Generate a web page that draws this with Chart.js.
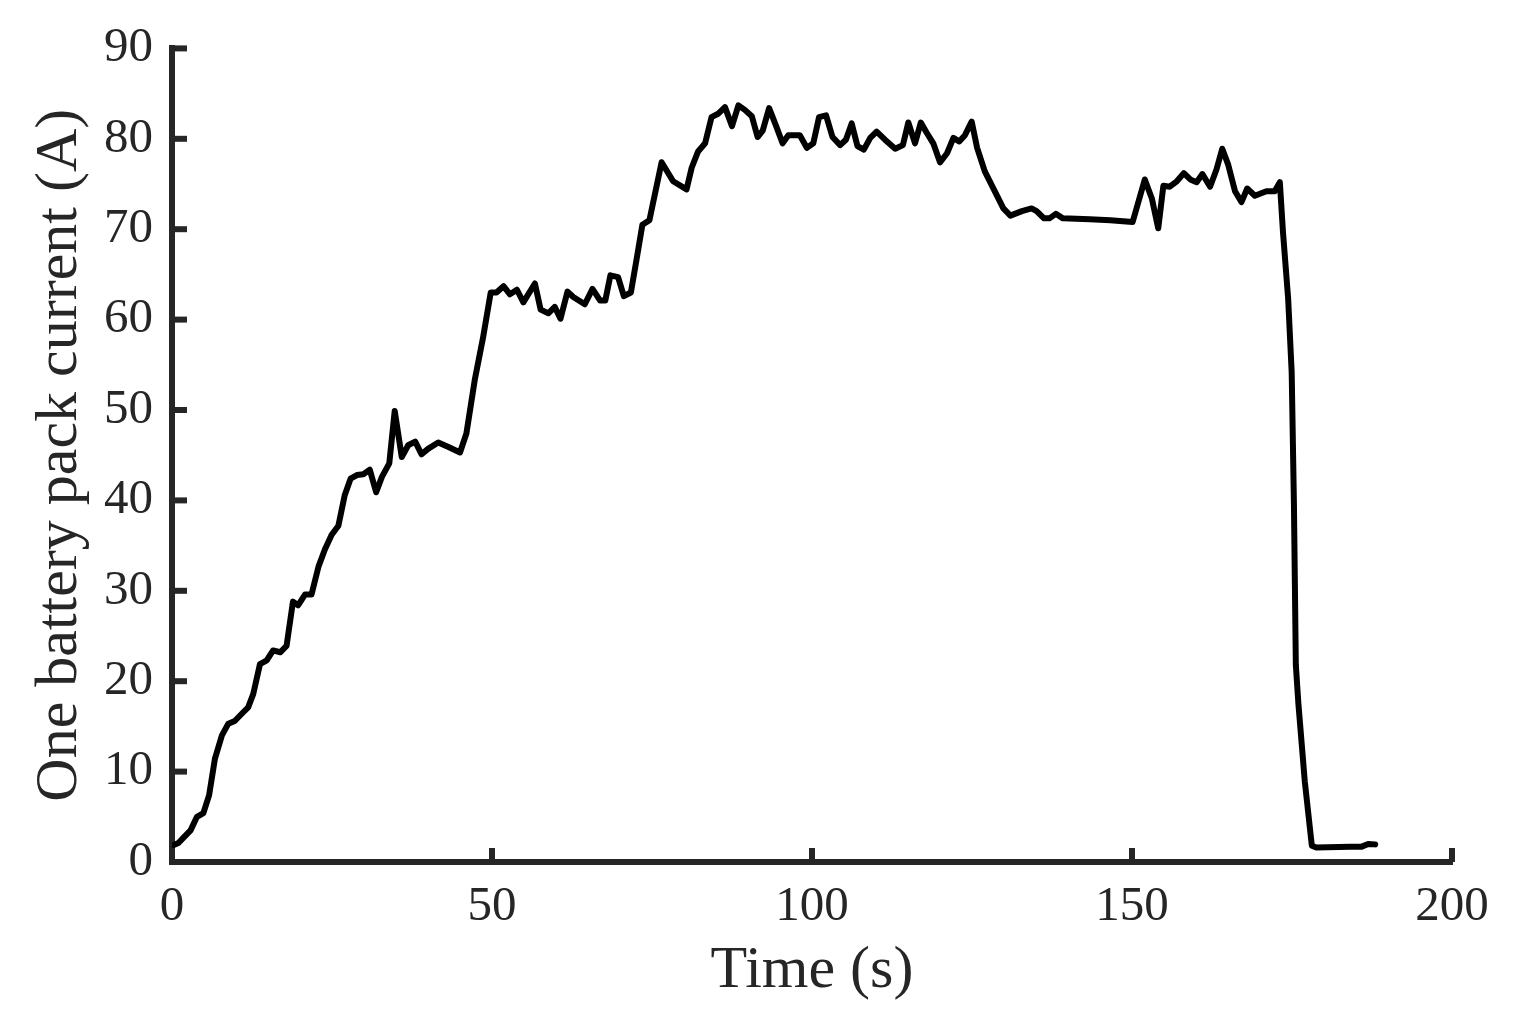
<!DOCTYPE html>
<html>
<head>
<meta charset="utf-8">
<script src="https://cdn.jsdelivr.net/npm/chart.js@4"></script>
<style>
  html, body { margin: 0; padding: 0; background: #fff; }
  #wrap { width: 1514px; height: 1027px; }
</style>
</head>
<body>
<div id="wrap"><canvas id="chart" width="1514" height="1027"></canvas></div>
<script>
// time (s) and current (A)
const times = [
  0, 1, 1.8, 2.9, 3.9, 4.9, 5.8, 6.7, 7.8, 8.8,
  9.8, 10.9, 11.9, 12.7, 13.75, 14.8, 15.8, 16.9, 17.9, 18.9,
  19.7, 20.8, 21.8, 22.9, 23.9, 24.95, 26, 27, 27.9, 28.9,
  29.9, 30.9, 31.9, 32.8, 33.95, 34.8, 35.9, 36.9, 38, 39,
  40, 41.6, 43.2, 45, 46, 47.3, 48.6, 49.8, 50.7, 51.8,
  52.8, 53.9, 54.9, 56.7, 57.6, 58.8, 59.8, 60.7, 61.8, 62.7,
  64.5, 65.7, 66.9, 67.7, 68.5, 69.7, 70.6, 71.7, 72.6, 73.5,
  74.6, 76.5, 78.3, 80.4, 81.2, 82.2, 83.3, 84.3, 85.4, 86.4,
  87.5, 88.5, 89.5, 90.6, 91.5, 92.3, 93.3, 94.4, 95.4, 96.3,
  98.1, 99.2, 100.2, 101.1, 102.2, 103.2, 104.4, 105.3, 106.2, 107.1,
  108.1, 109.1, 110.1, 111.4, 113.0, 114.2, 115.05, 116.1, 117.0, 117.9,
  118.95, 120.0, 121.1, 122.1, 123.0, 123.9, 124.95, 125.8, 127.0, 129.9,
  131.0, 132.8, 134.3, 135.1, 136.25, 137.1, 138.1, 139.2, 143.4, 146.6,
  150.1, 152.0, 153.1, 154.1, 154.9, 155.9, 157.0, 158.1, 159.1, 160.1,
  161.0, 162.2, 163.2, 164.1, 165.0, 166.1, 167.1, 168.0, 169.2, 171.0,
  172.3, 173.1, 173.6, 174.4, 174.95, 175.3, 175.6, 176.0, 177.0, 178.1,
  178.8, 184.1, 185.9, 186.9, 188.0
];
const current = [
  1.8, 2.1, 2.7, 3.5, 5.0, 5.4, 7.4, 11.4, 14.0, 15.3,
  15.6, 16.4, 17.1, 18.6, 21.9, 22.3, 23.4, 23.2, 23.9, 28.8,
  28.4, 29.6, 29.6, 32.7, 34.6, 36.2, 37.2, 40.6, 42.4, 42.8,
  42.9, 43.4, 40.9, 42.6, 44.1, 49.9, 44.8, 46.1, 46.5, 45.1,
  45.7, 46.4, 45.9, 45.3, 47.4, 53.3, 58.0, 63.0, 63.0, 63.7,
  62.8, 63.3, 61.9, 64.0, 61.1, 60.7, 61.4, 60.1, 63.1, 62.5,
  61.7, 63.4, 62.1, 62.1, 64.9, 64.7, 62.6, 63.0, 66.7, 70.5,
  71.0, 77.4, 75.3, 74.4, 76.8, 78.6, 79.5, 82.4, 82.8, 83.5,
  81.4, 83.7, 83.2, 82.5, 80.2, 80.9, 83.4, 81.4, 79.5, 80.4,
  80.4, 79.0, 79.5, 82.4, 82.6, 80.2, 79.3, 79.9, 81.7, 79.2,
  78.8, 80.1, 80.8, 79.9, 78.9, 79.3, 81.8, 79.5, 81.8, 80.7,
  79.5, 77.4, 78.4, 80.1, 79.7, 80.4, 81.9, 79.0, 76.4, 72.3,
  71.5, 72.0, 72.3, 72.0, 71.2, 71.2, 71.7, 71.2, 71.1, 71.0,
  70.8, 75.5, 73.4, 70.1, 74.8, 74.7, 75.3, 76.2, 75.5, 75.2,
  76.1, 74.7, 76.6, 78.9, 77.2, 74.2, 73.0, 74.5, 73.7, 74.2,
  74.2, 75.2, 69.6, 62.3, 54.2, 39.7, 21.8, 17.5, 8.9, 1.8,
  1.6, 1.7, 1.7, 2.0, 1.95
];
const xTicks = [0, 50, 100, 150, 200];
const yTicks = [0, 10, 20, 30, 40, 50, 60, 70, 80, 90];

const axisColor = "#262626";
const fontFamily = "'Liberation Serif', 'Times New Roman', serif";

// matlab style ticks: short marks pointing into the plot
const inwardTicks = {
  id: "inwardTicks",
  afterDraw(chart) {
    const { ctx, scales } = chart;
    const xs = scales.x;
    const ys = scales.y;
    ctx.save();
    ctx.strokeStyle = axisColor;
    ctx.lineWidth = 6;
    ctx.lineCap = "butt";
    yTicks.forEach((v) => {
      const py = ys.getPixelForValue(v);
      ctx.beginPath();
      ctx.moveTo(xs.left, py);
      ctx.lineTo(xs.left + 15, py);
      ctx.stroke();
    });
    xTicks.forEach((v) => {
      const px = xs.getPixelForValue(v);
      ctx.beginPath();
      ctx.moveTo(px, ys.bottom);
      ctx.lineTo(px, ys.bottom - 14);
      ctx.stroke();
    });
    ctx.restore();
  },
};

new Chart(document.getElementById("chart"), {
  type: "line",
  data: {
    datasets: [
      {
        data: times.map((t, i) => ({ x: t, y: current[i] })),
        borderColor: "#000000",
        borderWidth: 6,
        borderJoinStyle: "round",
        borderCapStyle: "round",
        pointRadius: 0,
        tension: 0,
        fill: false,
      },
    ],
  },
  options: {
    responsive: false,
    animation: false,
    devicePixelRatio: 1,
    layout: { padding: { left: 0, right: 62, top: 45, bottom: 0 } },
    plugins: {
      legend: { display: false },
      tooltip: { enabled: false },
    },
    scales: {
      x: {
        type: "linear",
        min: 0,
        max: 200,
        afterFit(scale) {
          scale.height = 165;
        },
        afterBuildTicks(scale) {
          scale.ticks = xTicks.map((v) => ({ value: v }));
        },
        grid: { display: true, drawOnChartArea: false, drawTicks: false },
        border: { display: true, color: axisColor, width: 6 },
        ticks: {
          color: axisColor,
          padding: 16,
          maxRotation: 0,
          font: { family: fontFamily, size: 49 },
        },
        title: {
          display: true,
          text: "Time (s)",
          color: axisColor,
          padding: { top: 0, bottom: 20 },
          font: { family: fontFamily, size: 60 },
        },
      },
      y: {
        type: "linear",
        min: 0,
        max: 90,
        afterFit(scale) {
          scale.width = 172;
        },
        afterBuildTicks(scale) {
          scale.ticks = yTicks.map((v) => ({ value: v }));
        },
        grid: { display: true, drawOnChartArea: false, drawTicks: false },
        border: { display: true, color: axisColor, width: 6 },
        ticks: {
          color: axisColor,
          padding: 19,
          font: { family: fontFamily, size: 49 },
        },
        title: {
          display: true,
          text: "One battery pack current (A)",
          color: axisColor,
          padding: { top: 24, bottom: 0 },
          font: { family: fontFamily, size: 60 },
        },
      },
    },
  },
  plugins: [inwardTicks],
});
</script>
</body>
</html>
